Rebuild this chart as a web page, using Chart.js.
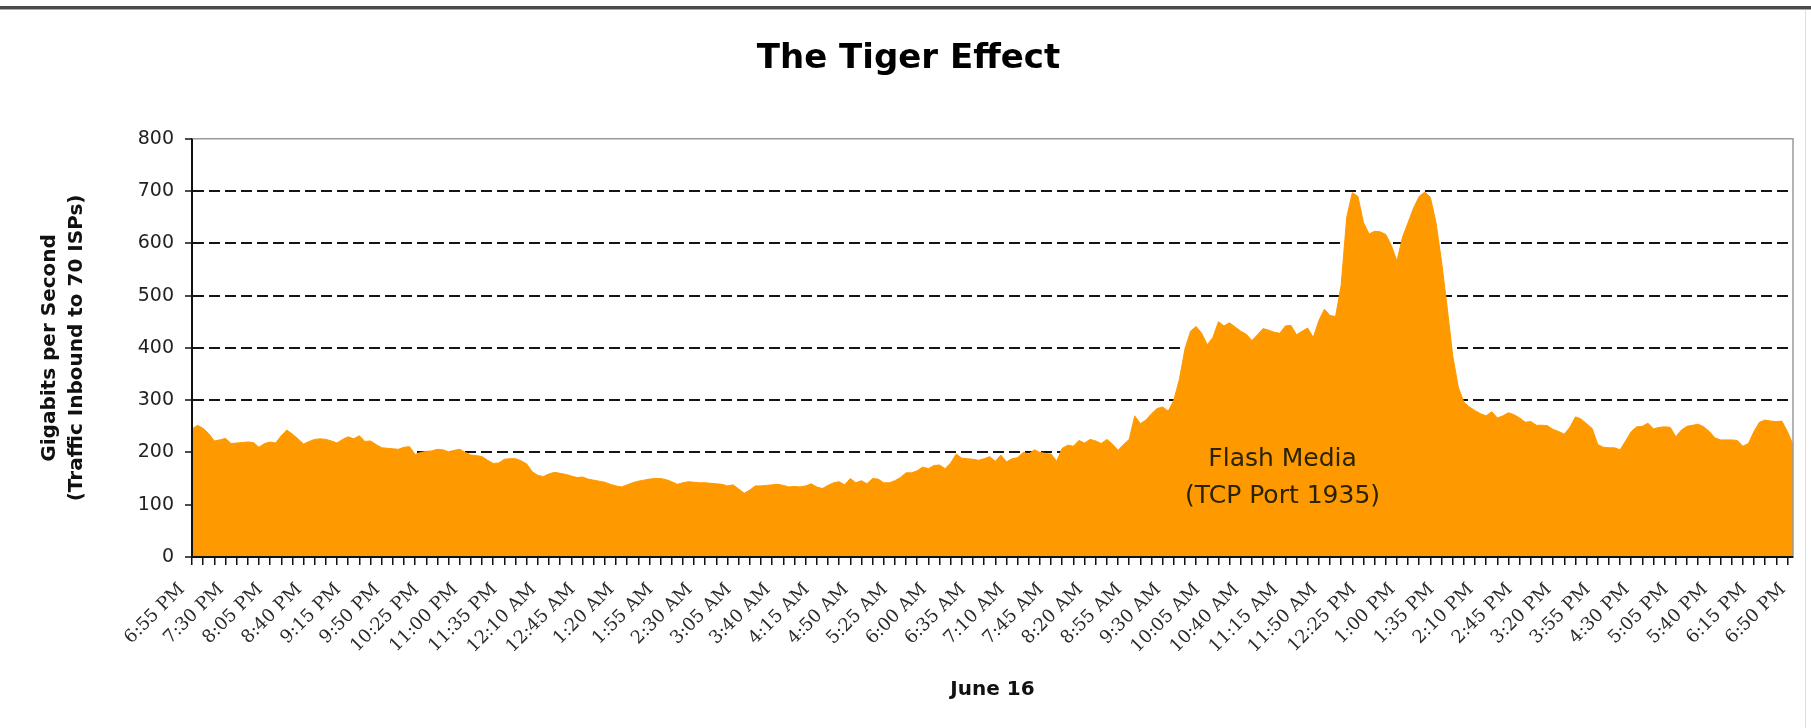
<!DOCTYPE html>
<html>
<head>
<meta charset="utf-8">
<script src="https://cdn.jsdelivr.net/npm/chart.js@4/dist/chart.umd.min.js"></script>
<style>
  html, body { margin: 0; padding: 0; background: #fff; }
  #wrap { position: relative; width: 1811px; height: 728px; overflow: hidden; }
  #topRule { position: absolute; left: 0; top: 6px; width: 1811px; height: 3px; background: #4a4a4a; border-bottom: 1px solid #aaa; }
  #rightRule { position: absolute; left: 1805px; top: 10px; width: 1px; height: 718px; background: #ddd; }
  canvas { position: absolute; left: 0; top: 0; }
</style>
</head>
<body>
<div id="wrap">
  <canvas id="tiger" width="1811" height="728"></canvas>
  <div id="topRule"></div>
  <div id="rightRule"></div>
</div>
<script>
// Flash Media traffic, Gbps, one value every 5 minutes (6:55 PM -> 6:50 PM)
const flashMedia = [
  245, 252, 246, 236, 222, 224, 227, 217, 218, 219,
  220, 219, 210, 217, 220, 218, 232, 243, 235, 226,
  216, 221, 225, 226, 225, 222, 218, 225, 230, 226,
  232, 221, 222, 215, 209, 208, 207, 206, 210, 211,
  196, 200, 202, 203, 206, 205, 201, 204, 206, 200,
  195, 194, 192, 185, 179, 180, 187, 188, 188, 184,
  178, 163, 156, 154, 159, 162, 160, 158, 155, 152,
  153, 149, 147, 145, 143, 139, 136, 134, 138, 142,
  145, 147, 149, 150, 150, 148, 144, 139, 142, 144,
  143, 142, 142, 141, 140, 139, 136, 138, 130, 122,
  128, 136, 136, 137, 138, 139, 137, 134, 135, 134,
  136, 140, 134, 131, 137, 142, 144, 138, 150, 142,
  146, 140, 150, 149, 142, 142, 146, 152, 161, 161,
  165, 172, 169, 175, 176, 169, 180, 197, 189, 188,
  187, 185, 188, 192, 183, 195, 182, 188, 190, 200,
  197, 205, 200, 198, 197, 183, 208, 214, 212, 223,
  218, 225, 222, 217, 225, 216, 204, 215, 225, 270,
  255, 262, 274, 284, 287, 279, 300, 340, 398, 432,
  441, 428, 406, 420, 450, 442, 448, 440, 432, 426,
  414, 425, 437, 434, 430, 428, 442, 443, 425, 432,
  438, 420, 452, 474, 462, 460, 520, 650, 697, 690,
  640, 618, 623, 622, 617, 596, 566, 612, 640, 668,
  690, 698, 688, 640, 565, 478, 385, 325, 296, 287,
  280, 274, 270, 278, 266, 270, 276, 272, 266, 258,
  259, 252, 252, 251, 244, 240, 235, 248, 268, 264,
  255, 246, 215, 210, 209, 209, 205, 222, 240, 249,
  250, 256, 245, 248, 249, 248, 230, 243, 250, 252,
  254, 249, 240, 228, 224, 224, 224, 223, 212, 217,
  240, 258, 262, 260, 259, 260, 240, 215
];

// one label every 7 samples (35 minutes)
const tickLabels = [
  '6:55 PM', '7:30 PM', '8:05 PM', '8:40 PM', '9:15 PM', '9:50 PM', '10:25 PM',
  '11:00 PM', '11:35 PM', '12:10 AM', '12:45 AM', '1:20 AM', '1:55 AM', '2:30 AM',
  '3:05 AM', '3:40 AM', '4:15 AM', '4:50 AM', '5:25 AM', '6:00 AM', '6:35 AM',
  '7:10 AM', '7:45 AM', '8:20 AM', '8:55 AM', '9:30 AM', '10:05 AM', '10:40 AM',
  '11:15 AM', '11:50 AM', '12:25 PM', '1:00 PM', '1:35 PM', '2:10 PM', '2:45 PM',
  '3:20 PM', '3:55 PM', '4:30 PM', '5:05 PM', '5:40 PM', '6:15 PM', '6:50 PM'
];

const yTicks = [0, 100, 200, 300, 400, 500, 600, 700, 800];
const seriesNote = ['Flash Media', '(TCP Port 1935)'];

const LABEL_EVERY = 7;
const TICK_EVERY = 2;
const slots = flashMedia.map((_, i) => i);

const SANS = '"DejaVu Sans", Verdana, sans-serif';
const ORANGE = '#ff9900';

// frame lines + the text inside the area
const framePlugin = {
    id: 'frame',
    afterDatasetsDraw(chart) {
        const { ctx, chartArea: a, scales: { x, y } } = chart;
        ctx.save();
        ctx.lineWidth = 1.5;
        ctx.strokeStyle = '#9a9a9a';
        ctx.beginPath();
        ctx.moveTo(a.left, a.top);
        ctx.lineTo(a.right, a.top);
        ctx.lineTo(a.right, a.bottom);
        ctx.stroke();

        ctx.lineWidth = 2;
        ctx.strokeStyle = '#111';
        ctx.beginPath();
        ctx.moveTo(a.left, a.top);
        ctx.lineTo(a.left, a.bottom);
        ctx.lineTo(a.right, a.bottom);
        ctx.stroke();

        ctx.font = '25px ' + SANS;
        ctx.fillStyle = '#2b2200';
        ctx.textAlign = 'center';
        ctx.textBaseline = 'middle';
        const cx = x.getPixelForValue(195.5);
        const cy = y.getPixelForValue(187);
        seriesNote.forEach((t, i) => ctx.fillText(t, cx, cy + i * 37));
        ctx.restore();
    }
};

new Chart(document.getElementById('tiger'), {
    type: 'line',
    data: {
        labels: slots,
        datasets: [{
            data: flashMedia,
            fill: 'origin',
            backgroundColor: ORANGE,
            borderColor: ORANGE,
            borderWidth: 1,
            pointRadius: 0,
            tension: 0
        }]
    },
    options: {
        responsive: false,
        animation: false,
        devicePixelRatio: 1,
        layout: { padding: { left: 24, right: 18, top: 0, bottom: 0 } },
        plugins: {
            legend: { display: false },
            tooltip: { enabled: false },
            title: {
                display: true,
                text: 'The Tiger Effect',
                color: '#000',
                font: { family: SANS, size: 34, weight: 'bold' },
                padding: { top: 39, bottom: 59 }
            }
        },
        scales: {
            x: {
                type: 'category',
                offset: false,
                afterFit: s => {
                    s.height = 171;
                    s.paddingLeft = 0;
                    s.paddingRight = 0;
                },
                grid: {
                    drawOnChartArea: false,
                    drawTicks: true,
                    tickLength: 8,
                    lineWidth: 1.5,
                    color: c => c.index % TICK_EVERY === 0 ? '#111' : 'rgba(0,0,0,0)',
                    tickColor: c => c.index % TICK_EVERY === 0 ? '#111' : 'rgba(0,0,0,0)'
                },
                border: { display: true, color: '#111', width: 2 },
                ticks: {
                    autoSkip: false,
                    minRotation: 45,
                    maxRotation: 45,
                    padding: 14,
                    labelOffset: -10,
                    color: '#2a2a2a',
                    font: { family: '"DejaVu Serif", serif', size: 18 },
                    callback: (v, i) => i % LABEL_EVERY === 0 ? tickLabels[i / LABEL_EVERY] : ''
                },
                title: {
                    display: true,
                    text: 'June 16',
                    color: '#111',
                    font: { family: SANS, size: 20, weight: 'bold' },
                    padding: { top: 0, bottom: 26 }
                }
            },
            y: {
                min: 0,
                max: 800,
                afterFit: s => { s.width = 168; },
                afterBuildTicks: s => { s.ticks = yTicks.map(v => ({ value: v })); },
                grid: {
                    color: c => (c.tick && (c.tick.value === 0 || c.tick.value === 800)) ? 'rgba(0,0,0,0)' : '#151515',
                    lineWidth: 2,
                    tickColor: '#111',
                    tickLength: 7,
                    tickWidth: 1.5
                },
                border: { display: true, color: '#111', width: 2, dash: [11, 5] },
                ticks: {
                    padding: 11,
                    color: '#222',
                    font: { family: SANS, size: 19 }
                },
                title: {
                    display: true,
                    text: ['Gigabits per Second', '(Traffic Inbound to 70 ISPs)'],
                    color: '#111',
                    font: { family: SANS, size: 20, weight: 'bold', lineHeight: 1.35 },
                    padding: { top: 12, bottom: 0 }
                }
            }
        }
    },
    plugins: [framePlugin]
});
</script>
</body>
</html>
